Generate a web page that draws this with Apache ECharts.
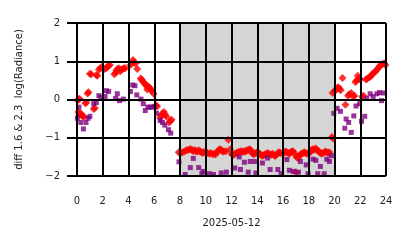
<!DOCTYPE html>
<html>
<head>
<meta charset="utf-8">
<script src="https://cdn.jsdelivr.net/npm/echarts@6/dist/echarts.min.js"></script>
<style>html,body{margin:0;padding:0;background:#fff}#c{width:414px;height:248px}</style>
</head>
<body>
<div id="c"></div>
<script>
var xTicks = [0, 2, 4, 6, 8, 10, 12, 14, 16, 18, 20, 22, 24];
var yTicks = [-2, -1, 0, 1, 2];
var dateLabel = '2025-05-12';
var yName = 'diff 1.6 & 2.3  log(Radiance)';
var nightBand = [8, 20];

var diffRed = [
[0.05,-0.02],[0.12,0.0],[0.2,0.02],[0.1,-0.33],[0.2,-0.38],[0.28,-0.36],[0.35,-0.42],[0.45,-0.44],[0.55,-0.45],[0.65,-0.1],[0.72,-0.08],[0.82,0.16],[0.9,0.19],[1.0,0.67],[1.1,0.66],[1.3,-0.25],[1.38,-0.22],[1.5,0.64],[1.58,0.62],[1.7,0.78],[1.8,0.82],[1.9,0.84],[2.15,0.8],[2.25,0.82],[2.35,0.85],[2.45,0.88],[2.55,0.9],[2.9,0.66],[3.0,0.7],[3.05,0.76],[3.15,0.8],[3.25,0.82],[3.35,0.74],[3.45,0.78],[3.55,0.8],[3.65,0.82],[3.75,0.82],[4.15,0.9],[4.25,0.95],[4.35,1.03],[4.45,0.98],[4.55,0.94],[4.68,0.8],[4.95,0.55],[5.02,0.52],[5.1,0.48],[5.2,0.44],[5.3,0.4],[5.38,0.36],[5.45,0.26],[5.55,0.34],[5.65,0.3],[5.72,0.27],[5.8,0.22],[5.95,0.15],[6.15,-0.15],[6.22,-0.18],[6.45,-0.48],[6.55,-0.42],[6.65,-0.36],[6.75,-0.33],[6.85,-0.4],[6.95,-0.45],[7.15,-0.6],[7.25,-0.56],[7.35,-0.53],
[7.9,-1.38],[8.05,-1.4],[8.2,-1.38],[8.35,-1.36],[8.5,-1.33],[8.6,-1.32],[8.75,-1.3],[8.85,-1.3],[8.95,-1.33],[9.05,-1.35],[9.15,-1.32],[9.25,-1.35],[9.35,-1.36],[9.45,-1.33],[9.55,-1.35],[9.65,-1.38],[9.75,-1.4],[9.85,-1.37],[9.95,-1.38],[10.05,-1.4],[10.15,-1.4],[10.3,-1.42],[10.4,-1.4],[10.55,-1.43],[10.65,-1.42],[10.75,-1.44],[10.9,-1.38],[11.0,-1.32],[11.1,-1.3],[11.2,-1.32],[11.3,-1.35],[11.4,-1.36],[11.55,-1.35],[11.75,-1.05],[11.9,-1.3],[12.0,-1.42],[12.1,-1.45],[12.2,-1.43],[12.3,-1.42],[12.4,-1.4],[12.5,-1.38],[12.6,-1.37],[12.7,-1.36],[12.8,-1.35],[12.9,-1.37],[13.0,-1.35],[13.1,-1.36],[13.2,-1.33],[13.3,-1.32],[13.4,-1.3],[13.5,-1.32],[13.6,-1.4],[13.7,-1.43],[13.8,-1.42],[13.9,-1.4],[14.0,-1.38],[14.1,-1.4],[14.2,-1.42],[14.3,-1.45],[14.4,-1.48],[14.5,-1.46],[14.6,-1.44],[14.7,-1.42],[14.8,-1.4],[14.9,-1.42],[15.0,-1.45],[15.1,-1.44],[15.2,-1.42],[15.3,-1.46],[15.4,-1.48],[15.5,-1.44],[15.6,-1.4],[15.7,-1.38],[15.8,-1.4],[16.0,-1.42],[16.1,-1.38],[16.2,-1.36],[16.3,-1.38],[16.4,-1.4],[16.5,-1.42],[16.6,-1.38],[16.7,-1.35],[16.8,-1.36],[16.9,-1.42],[17.0,-1.9],[17.05,-1.5],[17.15,-1.53],[17.25,-1.48],[17.35,-1.44],[17.45,-1.42],[17.55,-1.4],[17.65,-1.38],[17.75,-1.4],[17.85,-1.42],[18.0,-1.4],[18.1,-1.38],[18.2,-1.33],[18.3,-1.3],[18.4,-1.32],[18.5,-1.28],[18.6,-1.3],[18.7,-1.34],[18.8,-1.36],[18.9,-1.4],[19.0,-1.42],[19.1,-1.4],[19.2,-1.38],[19.3,-1.36],[19.4,-1.38],[19.5,-1.4],[19.6,-1.38],[19.8,-0.98],[19.9,-1.02],
[19.85,0.17],[20.0,0.22],[20.1,0.25],[20.2,0.3],[20.3,0.32],[20.4,0.28],[20.48,0.24],[20.62,0.56],[20.85,-0.14],[21.05,0.1],[21.15,0.14],[21.3,0.17],[21.45,0.08],[21.55,0.1],[21.62,0.46],[21.72,0.5],[21.8,0.62],[21.9,0.55],[22.0,0.52],[22.15,0.07],[22.25,0.1],[22.45,0.52],[22.55,0.55],[22.7,0.58],[22.8,0.6],[22.9,0.65],[23.0,0.68],[23.1,0.72],[23.2,0.74],[23.35,0.8],[23.45,0.85],[23.55,0.88],[23.7,0.92],[23.85,0.95],[23.95,0.9]
];

var diffPurple = [
[0.03,-0.49],[0.15,-0.2],[0.3,-0.6],[0.5,-0.77],[0.7,-0.6],[0.87,-0.49],[1.0,-0.44],[1.3,-0.11],[1.5,-0.08],[1.7,0.1],[1.85,0.06],[2.18,0.08],[2.28,0.23],[2.46,0.21],[3.0,0.03],[3.13,0.15],[3.3,-0.03],[3.6,0.01],[4.15,0.21],[4.33,0.38],[4.5,0.36],[4.64,0.12],[4.97,0.01],[5.15,-0.11],[5.3,-0.29],[5.5,-0.2],[5.67,-0.2],[5.82,-0.2],[6.0,-0.18],[6.18,-0.36],[6.46,-0.55],[6.64,-0.6],[6.82,-0.67],[7.1,-0.79],[7.28,-0.88],
[7.92,-1.63],[8.4,-1.96],[8.8,-1.78],[9.03,-1.54],[9.45,-1.78],[9.7,-1.94],[9.8,-1.88],[10.3,-1.94],[10.6,-1.96],[11.2,-1.92],[11.6,-1.9],[12.25,-1.79],[12.6,-1.5],[12.7,-1.83],[13.0,-1.64],[13.3,-1.9],[13.45,-1.62],[13.8,-1.62],[13.9,-1.92],[14.4,-1.66],[14.8,-1.53],[15.0,-1.83],[15.6,-1.83],[15.85,-1.94],[16.3,-1.57],[16.5,-1.85],[16.8,-1.88],[17.2,-1.9],[17.35,-1.62],[17.8,-1.71],[17.95,-1.94],[18.33,-1.56],[18.55,-1.59],[18.7,-1.94],[18.9,-1.75],[19.2,-1.94],[19.4,-1.56],[19.6,-1.62],[19.77,-1.47],
[19.95,-0.36],[20.2,-0.23],[20.46,-0.31],[20.8,-0.75],[20.9,-0.51],[21.1,-0.6],[21.3,-0.86],[21.5,-0.43],[21.67,-0.17],[21.95,-0.11],[22.1,-0.57],[22.35,-0.44],[22.5,0.03],[22.77,0.15],[23.0,0.08],[23.3,0.15],[23.5,0.18],[23.65,-0.03],[23.8,0.17]
];

var FONT = 'DejaVu Sans';
function fmt(v){ return String(v).replace('-', '\u2212'); }
var chart = echarts.init(document.getElementById('c'), null, {renderer:'canvas'});
chart.setOption({
  animation: false,
  backgroundColor: '#ffffff',
  grid: {left: 77, right: 28, top: 23, bottom: 72, containLabel: false},
  xAxis: {
    type: 'value', min: xTicks[0], max: xTicks[xTicks.length-1], interval: 2, z: 10,
    name: dateLabel, nameLocation: 'middle', nameGap: 42,
    nameTextStyle: {fontFamily: FONT, fontSize: 10, color: '#222'},
    axisLine: {show: true, lineStyle: {color: '#000', width: 2}},
    axisTick: {show: true, length: 10, lineStyle: {color: '#000', width: 2}},
    axisLabel: {margin: 20, fontFamily: FONT, fontSize: 10, color: '#222', formatter: fmt},
    splitLine: {show: true, lineStyle: {color: '#000', width: 2}}
  },
  yAxis: {
    type: 'value', min: yTicks[0], max: yTicks[yTicks.length-1], interval: 1, z: 10,
    name: yName, nameLocation: 'middle', nameGap: 53, nameRotate: 90,
    nameTextStyle: {fontFamily: FONT, fontSize: 10, color: '#222'},
    axisLine: {show: true, lineStyle: {color: '#000', width: 2}},
    axisTick: {show: true, length: 10, lineStyle: {color: '#000', width: 2}},
    axisLabel: {margin: 17, fontFamily: FONT, fontSize: 10, color: '#222', formatter: fmt},
    splitLine: {show: true, lineStyle: {color: '#000', width: 2}}
  },
  series: [
    {type: 'scatter', data: diffRed, symbol: 'diamond', symbolSize: 8, z: 2,
     itemStyle: {color: '#ff0000'}},
    {type: 'scatter', data: diffPurple, symbol: 'rect', symbolSize: 5, z: 3,
     itemStyle: {color: '#800080'}},
    {type: 'line', data: [], z: 5, silent: true,
     markArea: {silent: true, itemStyle: {color: 'rgba(128,128,128,0.33)'},
       data: [[{xAxis: nightBand[0]}, {xAxis: nightBand[1]}]]}}
  ]
});
</script>
</body>
</html>
